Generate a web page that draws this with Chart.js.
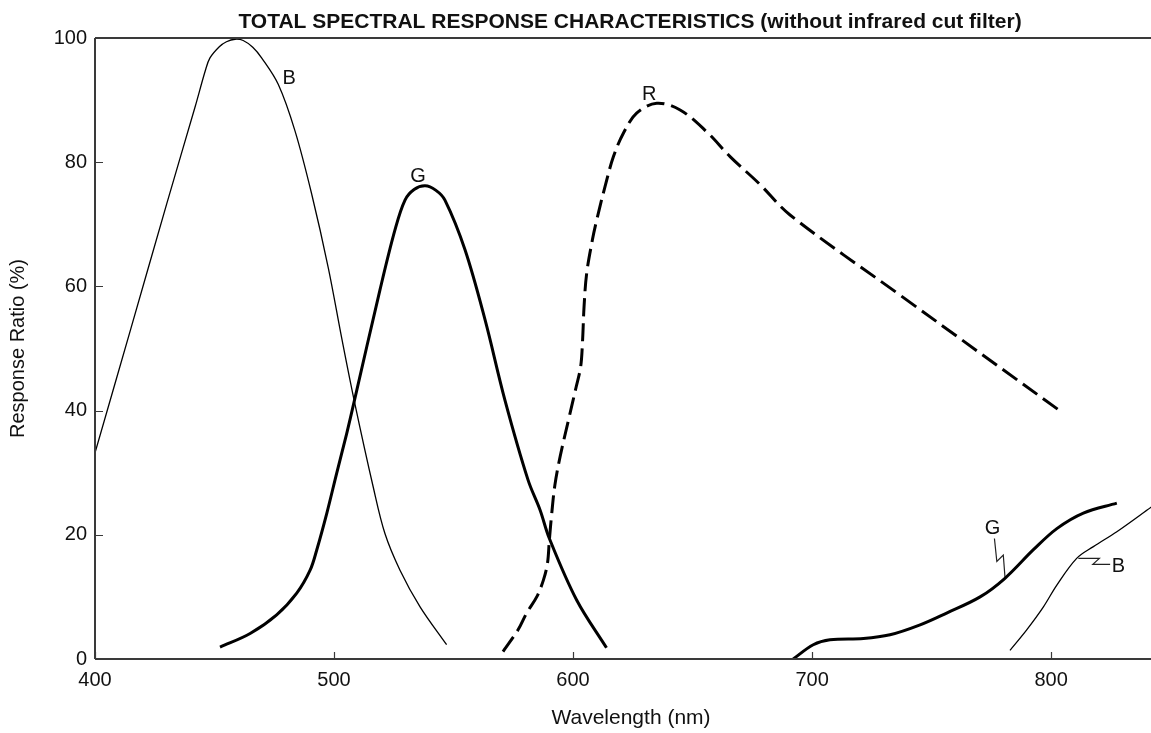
<!DOCTYPE html>
<html>
<head>
<meta charset="utf-8">
<script src="https://cdn.jsdelivr.net/npm/chart.js@4/dist/chart.umd.min.js"></script>
<style>
  html, body { margin: 0; padding: 0; background: #fff; }
  #wrap { width: 1151px; height: 733px; position: relative; }
</style>
</head>
<body>
<div id="wrap"><canvas id="c" width="1151" height="733"></canvas></div>
<script>
// ---- Data (wavelength in nm, response in %) ----
const blueShortWl   = [400, 415, 430, 441.8, 446.2, 448.1, 452, 455, 458.6, 462, 466, 469.7, 476.7, 483.7, 490.7, 497.6, 503.2, 508.4, 516.4, 521.3, 527.6, 536.0, 547.1];
const blueShortResp = [33.2, 53.2, 73.3, 88.8, 94.8, 96.8, 98.6, 99.4, 99.8, 99.6, 98.5, 96.8, 92.5, 85.0, 74.8, 63.0, 51.7, 41.7, 27.7, 20.2, 14.3, 8.4, 2.3];

const greenShortWl   = [452.3, 464.9, 476.0, 484.4, 490.0, 492.8, 497.0, 501.1, 505.3, 508.4, 519.2, 525.5, 529.7, 533.5, 538.1, 542.5, 546.4, 554.8, 563.2, 571.5, 581.2, 586.2, 590.1, 601.5, 614.0];
const greenShortResp = [1.9, 4.1, 7.1, 10.6, 14.3, 17.6, 23.5, 29.9, 36.3, 41.4, 59.4, 69.1, 73.9, 75.6, 76.2, 75.5, 73.9, 65.9, 54.6, 41.7, 28.8, 24.0, 19.4, 9.5, 1.8];

const redWl   = [570.7, 577.0, 580.6, 584.8, 587.6, 589.3, 590.1, 591.1, 592.4, 594.6, 598.1, 601.3, 603.2, 604.0, 604.6, 605.7, 608.1, 609.9, 613.4, 616.9, 621.1, 626.6, 635.0, 644.8, 655.9, 665.7, 678.0, 690.8, 736.8, 805.0];
const redResp = [1.2, 4.7, 7.4, 10.0, 12.7, 15.4, 19.2, 23.5, 28.0, 32.6, 38.5, 43.8, 47.1, 51.4, 56.7, 62.1, 67.5, 70.7, 76.1, 80.9, 84.7, 87.9, 89.5, 88.4, 84.9, 80.9, 76.5, 71.5, 58.6, 39.6];

const greenIrWl   = [692.1, 700.5, 707.5, 721.5, 732.6, 745.2, 756.3, 770.3, 780.7, 792.6, 802.4, 813.5, 827.5];
const greenIrResp = [0.0, 2.3, 3.1, 3.3, 3.9, 5.5, 7.4, 10.0, 13.0, 17.6, 21.0, 23.5, 25.1];

const blueIrWl   = [782.8, 789.8, 796.8, 802.4, 810.7, 817.7, 827.5, 842.0];
const blueIrResp = [1.4, 4.7, 8.4, 11.9, 16.2, 18.1, 20.5, 24.5];

// label leader lines (data coordinates)
const greenLeaderWl   = [776.3, 777.3, 780.0, 780.75];
const greenLeaderResp = [19.4, 15.7, 16.75, 13.0];
const blueLeaderWl    = [824.7, 817.45, 820.2, 811.4];
const blueLeaderResp  = [15.25, 15.25, 16.2, 16.2];

// curve labels
const labelText = ['B', 'G', 'R', 'G', 'B'];
const labelWl   = [481.2, 535.1, 631.9, 775.5, 828.2];
const labelResp = [93.7, 77.9, 91.1, 21.3, 15.2];

const xTicks = [400, 500, 600, 700, 800];
const yTicks = [0, 20, 40, 60, 80, 100];

const titleText = 'TOTAL SPECTRAL RESPONSE CHARACTERISTICS (without infrared cut filter)';
const xTitle = 'Wavelength (nm)';
const yTitle = 'Response Ratio (%)';

const FONT = '"Liberation Sans", Arial, Helvetica, sans-serif';
const zip = (xs, ys) => xs.map((x, i) => ({ x, y: ys[i] }));

function curve(wl, resp, width, dash) {
  return {
    data: zip(wl, resp),
    showLine: true,
    borderColor: '#000',
    backgroundColor: '#000',
    borderWidth: width,
    borderDash: dash || [],
    borderCapStyle: 'butt',
    borderJoinStyle: 'round',
    pointRadius: 0,
    pointHoverRadius: 0,
    tension: 0.35,
    fill: false
  };
}
function leader(wl, resp) {
  return {
    data: zip(wl, resp),
    showLine: true,
    borderColor: '#222',
    borderWidth: 1.2,
    pointRadius: 0,
    tension: 0,
    fill: false
  };
}

const decorPlugin = {
  id: 'decor',
  afterDraw(chart) {
    const ctx = chart.ctx;
    const xs = chart.scales.x, ys = chart.scales.y;
    const a = chart.chartArea;
    ctx.save();
    // axes + top border
    ctx.strokeStyle = '#3a3a3a';
    ctx.lineWidth = 2;
    ctx.beginPath();
    ctx.moveTo(a.left, a.top); ctx.lineTo(a.right, a.top);
    ctx.moveTo(a.left, a.top); ctx.lineTo(a.left, a.bottom);
    ctx.moveTo(a.left, a.bottom); ctx.lineTo(a.right, a.bottom);
    ctx.stroke();
    // inward tick marks
    ctx.lineWidth = 1.2;
    ctx.beginPath();
    yTicks.forEach(v => {
      const py = Math.round(ys.getPixelForValue(v)) + 0.5;
      ctx.moveTo(a.left, py); ctx.lineTo(a.left + 8, py);
    });
    xTicks.forEach(v => {
      const px = Math.round(xs.getPixelForValue(v)) + 0.5;
      ctx.moveTo(px, a.bottom); ctx.lineTo(px, a.bottom - 7);
    });
    ctx.stroke();

    ctx.fillStyle = '#111';
    // curve labels
    ctx.font = '20px ' + FONT;
    ctx.textAlign = 'center';
    ctx.textBaseline = 'alphabetic';
    labelText.forEach((t, i) => {
      ctx.fillText(t, xs.getPixelForValue(labelWl[i]), ys.getPixelForValue(labelResp[i]) + 7.2);
    });
    // title
    const cx = (a.left + a.right) / 2 + 7;
    ctx.font = 'bold 21px ' + FONT;
    ctx.fillText(titleText, cx, 27.5);
    // x title
    ctx.font = '21px ' + FONT;
    ctx.fillText(xTitle, cx + 1, 724);
    // y title
    ctx.font = '20px ' + FONT;
    ctx.translate(24, (a.top + a.bottom) / 2);
    ctx.rotate(-Math.PI / 2);
    ctx.fillText(yTitle, 0, 0);
    ctx.restore();
  }
};

Chart.defaults.font.family = FONT;
Chart.defaults.color = '#111';

new Chart(document.getElementById('c'), {
  type: 'scatter',
  data: {
    datasets: [
      curve(blueShortWl, blueShortResp, 1.3),
      curve(greenShortWl, greenShortResp, 3),
      curve(redWl, redResp, 3, [18, 7]),
      curve(greenIrWl, greenIrResp, 3),
      curve(blueIrWl, blueIrResp, 1.3),
      leader(greenLeaderWl, greenLeaderResp),
      leader(blueLeaderWl, blueLeaderResp)
    ]
  },
  options: {
    responsive: false,
    animation: false,
    events: [],
    layout: { padding: { top: 38, left: 0, right: 0, bottom: 0 } },
    plugins: {
      legend: { display: false },
      title: { display: false },
      tooltip: { enabled: false }
    },
    scales: {
      x: {
        type: 'linear',
        min: 400,
        max: 841.8,
        grid: { display: false, drawTicks: false },
        border: { display: false },
        ticks: { stepSize: 100, padding: 9, font: { size: 20 }, color: '#111', maxRotation: 0 },
        afterBuildTicks(s) { s.ticks = xTicks.map(v => ({ value: v })); },
        afterFit(s) { s.height = 74; }
      },
      y: {
        type: 'linear',
        min: 0,
        max: 100,
        grid: { display: false, drawTicks: false },
        border: { display: false },
        ticks: { stepSize: 20, padding: 8, font: { size: 20 }, color: '#111' },
        afterBuildTicks(s) { s.ticks = yTicks.map(v => ({ value: v })); },
        afterFit(s) { s.width = 95; }
      }
    }
  },
  plugins: [decorPlugin]
});
</script>
</body>
</html>
